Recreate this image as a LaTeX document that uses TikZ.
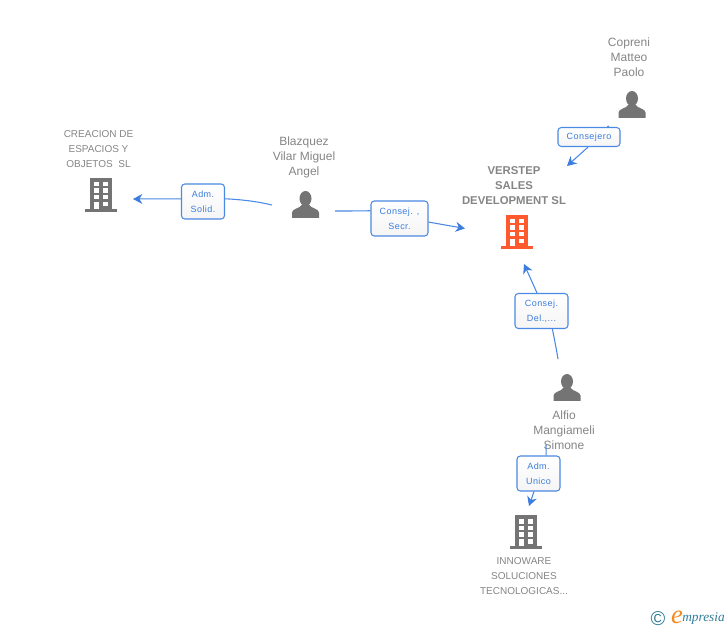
\documentclass[tikz,border=0pt]{standalone}
\usepackage{fontspec}
\setmainfont{Liberation Sans}
\newfontfamily\labelfont[LetterSpace=5]{Liberation Sans}
\newfontfamily\logofont{Liberation Serif}
\usetikzlibrary{arrows.meta}
\definecolor{linkblue}{HTML}{4A89E4}
\definecolor{tipblue}{HTML}{3C7DDD}
\definecolor{textgray}{HTML}{858585}
\definecolor{icongray}{HTML}{747474}
\definecolor{iconred}{HTML}{FF5A2D}
\definecolor{logoteal}{HTML}{2F7D96}
\definecolor{logoorange}{HTML}{F28A1E}
\tikzset{
	link/.style={linkblue, line width=0.8pt},
	linkarrow/.style={link, -{Stealth[length=7pt,width=7.5pt,inset=2.2pt,color=tipblue]}},
	rolebox/.style={draw=linkblue, line width=0.8pt, rounded corners=2.5pt, top color=white, bottom color=black!4,
		text=tipblue, inner sep=0pt, align=center, font=\labelfont\fontsize{6.75}{11.25}\selectfont},
	personname/.style={text=textgray, align=center, font=\fontsize{9}{11.25}\selectfont},
	companyname/.style={text=textgray, align=center, font=\fontsize{7.5}{11.25}\selectfont},
	mainname/.style={text=textgray, align=center, font=\bfseries\fontsize{8.5}{11.25}\selectfont},
	personicon/.pic={
		\fill[icongray] (0,-6) ellipse (6 and 7.5);
		\fill[icongray] (-13.5,13.5) -- (-13.5,8) .. controls (-13.5,4) and (-5,4) .. (-3.5,0)
			-- (3.5,0) .. controls (5,4) and (13.5,4) .. (13.5,8) -- (13.5,13.5) -- cycle;
	},
	buildingicon/.pic={
		\fill[pic actions] (-11,0) rectangle (11,31);
		\fill[pic actions] (-16,31) rectangle (16,34);
		\foreach \winy in {4,10.5,17,24} {
			\fill[white] (-7.5,\winy) rectangle (-2.5,\winy+4.5);
			\fill[white] (2,\winy) rectangle (7,\winy+4.5);
		}
		\fill[white] (-7.5,24) rectangle (-2.5,31);
	},
}
\begin{document}
\begin{tikzpicture}[x=0.75pt,y=-0.75pt]
	\useasboundingbox (0,0) rectangle (728,630);

	% names
	\node[personname] (nameCopreni) at (629,57) {Copreni\\Matteo\\Paolo};
	\node[personname] (nameBlazquez) at (304,157.5) {Blazquez\\Vilar Miguel\\Angel};
	\node[personname] (nameAlfio) at (564,430) {Alfio\\Mangiameli\\Simone};
	\node[companyname] (nameCreacion) at (98.5,149.5) {CREACION DE\\ESPACIOS Y\\OBJETOS\ \ SL};
	\node[companyname] (nameInnoware) at (524,576) {INNOWARE\\SOLUCIONES\\TECNOLOGICAS...};
	\node[mainname] (nameVerstep) at (514,185.5) {VERSTEP\\SALES\\DEVELOPMENT SL};

	% icons
	\pic at (632,104.5) {personicon};
	\pic at (305.5,204.5) {personicon};
	\pic at (567,387.5) {personicon};
	\pic[fill=icongray] at (101,178) {buildingicon};
	\pic[fill=iconred] at (517,215) {buildingicon};
	\pic[fill=icongray] at (526,515) {buildingicon};

	% free ends of the links
	\coordinate (fromBlazquezL) at (272,205);
	\coordinate (toCreacion) at (133,199);
	\coordinate (fromBlazquezR) at (335,211);
	\coordinate (toVerstepL) at (465,228.5);
	\coordinate (fromCopreni) at (609,126);
	\coordinate (toVerstepT) at (567,166);
	\coordinate (fromAlfioT) at (558,359);
	\coordinate (toVerstepB) at (524,264);
	\coordinate (fromAlfioB) at (546,445);
	\coordinate (toInnoware) at (529,506);

	% role boxes
	\node[rolebox, minimum width=43pt*0.75, minimum height=35pt*0.75] (roleAdm) at (203,201.5) {Adm.\\Solid.};
	\node[rolebox, minimum width=57pt*0.75, minimum height=35pt*0.75] (roleSecr) at (399.5,218.5) {Consej. ,\\Secr.};
	\node[rolebox, minimum width=62pt*0.75, minimum height=19pt*0.75] (roleConsejero) at (589,137) {Consejero};
	\node[rolebox, minimum width=53pt*0.75, minimum height=35pt*0.75] (roleDel) at (541.5,311) {Consej.\\Del.,...};
	\node[rolebox, minimum width=43pt*0.75, minimum height=35pt*0.75] (roleUnico) at (538.5,473.5) {Adm.\\Unico};

	% links
	\draw[link] (fromBlazquezL) .. controls (255,201) and (240,199.5) .. (roleAdm.7);
	\draw[linkarrow] (roleAdm.173) -- (toCreacion);
	\draw[link] (fromBlazquezR) .. controls (348,211) and (360,211) .. (roleSecr.165);
	\draw[linkarrow] (roleSecr.-7) -- (toVerstepL);
	\draw[link] (fromCopreni) -- (roleConsejero.29);
	\draw[linkarrow] (roleConsejero.-95) -- (toVerstepT);
	\draw[link] (fromAlfioT) .. controls (556,347) and (554,337) .. (roleDel.-59);
	\draw[linkarrow] (roleDel.104) -- (toVerstepB);
	\draw[link] (fromAlfioB) -- (roleUnico.67);
	\draw[linkarrow] (roleUnico.-104) -- (toInnoware);

	% logo
	\node[text=logoteal, font=\fontsize{15}{15}\selectfont] (logoC) at (658,619) {©};
	\node[text=logoorange, font=\logofont\itshape\fontsize{20}{20}\selectfont] (logoE) at (677,617) {e};
	\node[text=logoteal, anchor=west, inner sep=0pt, font=\logofont\itshape\fontsize{10}{10}\selectfont] (logoName) at (682,619) {mpresia};
\end{tikzpicture}
\end{document}
